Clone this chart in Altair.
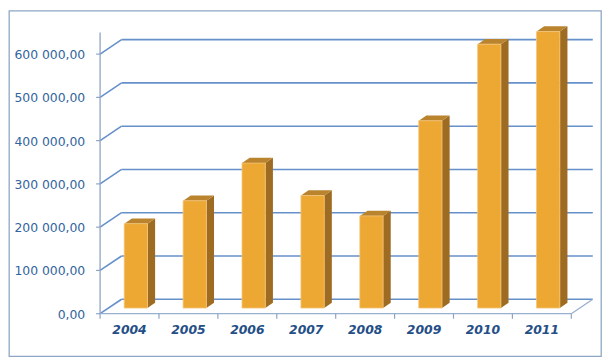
import altair as alt
import pandas as pd

# ---- data ----
years = ["2004", "2005", "2006", "2007", "2008", "2009", "2010", "2011"]
values = [195000, 248000, 335000, 260000, 213000, 433000, 610000, 639000]
tick_values = [0, 100000, 200000, 300000, 400000, 500000, 600000]
tick_labels = ["0,00", "100 000,00", "200 000,00", "300 000,00",
               "400 000,00", "500 000,00", "600 000,00"]
axis_top = 650000

# ---- geometry of the pseudo-3D view (pixels -> data units) ----
W, H = 598, 349
PX_PER_CAT = 59.5
PX_PER_VAL = 43.7 / 100000
AX_X = 92          # front axis position, px
AX_Y = 306         # front zero level, px
x_dom = [-AX_X / PX_PER_CAT, (W - AX_X) / PX_PER_CAT]
y_dom = [-(H - AX_Y) / PX_PER_VAL, AX_Y / PX_PER_VAL]

DX_FULL = 21.7 / PX_PER_CAT          # depth shift of back wall, category units
DY_FULL = 14.6 / PX_PER_VAL          # depth shift of back wall, value units
FRONT_DEPTH = 0.39
BAR_DX = 7.7 / PX_PER_CAT
BAR_DY = 5.3 / PX_PER_VAL
BAR_L, BAR_R = 0.41, 0.805
n = len(years)

XS = alt.Scale(domain=x_dom, nice=False, zero=False)
YS = alt.Scale(domain=y_dom, nice=False, zero=False)

GRID = "#6690CA"
FLOOR = "#98AFD0"
AXIS = "#8EA3C4"

# gridlines (back wall + left wall diagonals)
grid_rows = []
for v in tick_values:
    grid_rows.append(dict(x=0, y=v, x2=DX_FULL, y2=v + DY_FULL))
    grid_rows.append(dict(x=DX_FULL, y=v + DY_FULL, x2=n + DX_FULL, y2=v + DY_FULL))
grid_df = pd.DataFrame(grid_rows)

floor_df = pd.DataFrame([
    dict(x=0, y=0, x2=n, y2=0),
    dict(x=n, y=0, x2=n + DX_FULL, y2=DY_FULL),
])
axis_df = pd.DataFrame([dict(x=0, y=0, x2=0, y2=axis_top)])


def rules(df, color, width=1.0):
    return alt.Chart(df).mark_rule(color=color, strokeWidth=width).encode(
        x=alt.X("x:Q", scale=XS, axis=None),
        y=alt.Y("y:Q", scale=YS, axis=None),
        x2="x2:Q", y2="y2:Q")


grid = rules(grid_df, GRID, 1.6)
floor = rules(floor_df, FLOOR, 1.3)
axis_line = rules(axis_df, AXIS, 1.3)

# bars
front_rows, side_rows, top_rows = [], [], []
base = FRONT_DEPTH * DY_FULL
for i, (yr, v) in enumerate(zip(years, values)):
    xl, xr = i + BAR_L, i + BAR_R
    b, t = base, base + v
    front_rows.append(dict(bar=yr, x=xl, x2=xr, y=b, y2=t))
    side_rows += [dict(bar=yr, x=xr, lo=b, hi=t),
                  dict(bar=yr, x=xr + BAR_DX, lo=b + BAR_DY, hi=t + BAR_DY)]
    top_rows += [dict(bar=yr, x=xl, lo=t, hi=t),
                 dict(bar=yr, x=xl + BAR_DX, lo=t, hi=t + BAR_DY),
                 dict(bar=yr, x=xr, lo=t, hi=t + BAR_DY),
                 dict(bar=yr, x=xr + BAR_DX, lo=t + BAR_DY, hi=t + BAR_DY)]

front = alt.Chart(pd.DataFrame(front_rows)).mark_rect(
    color="#EDA733", stroke="#F5C57A", strokeWidth=0.8).encode(
    x=alt.X("x:Q", scale=XS, axis=None), x2="x2:Q",
    y=alt.Y("y:Q", scale=YS, axis=None), y2="y2:Q")


def faces(rows, color):
    return alt.Chart(pd.DataFrame(rows)).mark_area(
        color=color, orient="vertical", interpolate="linear").encode(
        x=alt.X("x:Q", scale=XS, axis=None),
        y=alt.Y("lo:Q", scale=YS, axis=None, stack=None),
        y2="hi:Q",
        detail="bar:N")


side = faces(side_rows, "#9D6B22")
top = faces(top_rows, "#BA842E")

# ticks
ytick_df = pd.DataFrame(dict(x=[0] * len(tick_values), y=tick_values, lab=tick_labels))
yticks = alt.Chart(ytick_df).mark_rule(color=AXIS, x2Offset=-4, strokeWidth=1.2).encode(
    x=alt.X("x:Q", scale=XS, axis=None), x2="x:Q",
    y=alt.Y("y:Q", scale=YS, axis=None))
xtick_df = pd.DataFrame(dict(x=list(range(n + 1)), y=[0] * (n + 1)))
xticks = alt.Chart(xtick_df).mark_rule(color=AXIS, y2Offset=5, strokeWidth=1.2).encode(
    x=alt.X("x:Q", scale=XS, axis=None),
    y=alt.Y("y:Q", scale=YS, axis=None), y2="y:Q")

ylabels = alt.Chart(ytick_df).mark_text(
    align="right", baseline="middle", dx=-15, dy=1, fontSize=12.5,
    font="DejaVu Sans", color="#33659D").encode(
    x=alt.X("x:Q", scale=XS, axis=None),
    y=alt.Y("y:Q", scale=YS, axis=None), text="lab:N")

xlab_df = pd.DataFrame(dict(x=[i + 0.5 for i in range(n)], y=[0] * n, lab=years))
xlabels = alt.Chart(xlab_df).mark_text(
    align="center", baseline="middle", dy=17, fontSize=12.5, fontWeight="bold",
    fontStyle="italic", font="DejaVu Sans", color="#244E86").encode(
    x=alt.X("x:Q", scale=XS, axis=None),
    y=alt.Y("y:Q", scale=YS, axis=None), text="lab:N")

chart = alt.layer(grid, floor, side, top, front, axis_line, yticks, xticks,
                  ylabels, xlabels).properties(
    width=W, height=H,
    autosize=alt.AutoSizeParams(type="none"),
    padding={"left": 1, "top": 1, "right": 1, "bottom": 1},
).configure_view(stroke="#8EA6C6", strokeWidth=1.3)

chart.save("out.html", embed_options={"renderer": "svg", "actions": False})
